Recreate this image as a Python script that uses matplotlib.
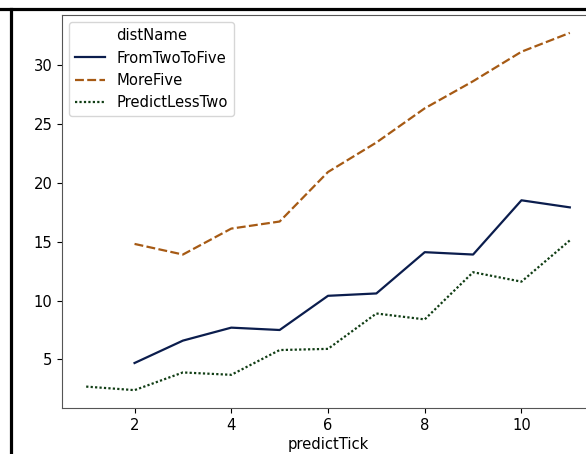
import matplotlib
matplotlib.use("Agg")
import matplotlib.pyplot as plt
from matplotlib.lines import Line2D

# data
ticks_full = [1, 2, 3, 4, 5, 6, 7, 8, 9, 10, 11]
ticks_from2 = [2, 3, 4, 5, 6, 7, 8, 9, 10, 11]
from_two_to_five = [4.7, 6.6, 7.7, 7.5, 10.4, 10.6, 14.1, 13.9, 18.5, 17.9]
more_five = [14.8, 13.9, 16.1, 16.7, 20.9, 23.4, 26.3, 28.6, 31.1, 32.7]
predict_less_two = [2.7, 2.4, 3.9, 3.7, 5.8, 5.9, 8.9, 8.4, 12.4, 11.6, 15.1]

plt.rcParams["font.size"] = 10.6

fig = plt.figure(figsize=(5.86, 4.54), dpi=100)
# axes run past the right edge, like the cropped screenshot
ax = fig.add_axes([62 / 586, 46 / 454, 532 / 586, 393 / 454])

ax.plot(ticks_from2, from_two_to_five, color="#0b1d4d", lw=1.6, label="FromTwoToFive")
ax.plot(ticks_from2, more_five, color="#a65a14", lw=1.6, dashes=(4, 1.5), label="MoreFive")
ax.plot(ticks_full, predict_less_two, color="#103d14", lw=1.6, dashes=(1, 1), label="PredictLessTwo")

ax.set_xticks([2, 4, 6, 8, 10])
ax.set_yticks([5, 10, 15, 20, 25, 30])
ax.set_xlabel("predictTick", labelpad=3)
for s in ax.spines.values():
    s.set_color("#555555")

ax.legend(title="distName", loc="upper left", fontsize=10.6, title_fontsize=10.6)

# screenshot border lines
fig.add_artist(Line2D([0, 1], [1 - 9 / 454, 1 - 9 / 454], color="black", lw=2.3,
                      transform=fig.transFigure))
fig.add_artist(Line2D([11 / 586, 11 / 586], [0, 1 - 9 / 454], color="black", lw=2.3,
                      transform=fig.transFigure))

fig.savefig("out.png", dpi=100)
